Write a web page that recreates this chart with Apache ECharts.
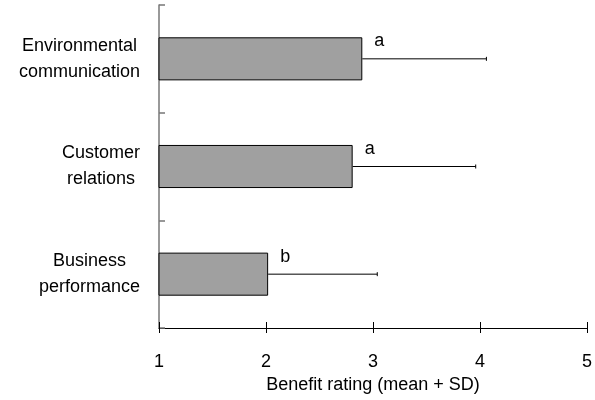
<!DOCTYPE html>
<html>
<head>
<meta charset="utf-8">
<script src="https://cdn.jsdelivr.net/npm/echarts@6/dist/echarts.min.js"></script>
<style>
html,body{margin:0;padding:0;background:#fff;}
#chart{width:595px;height:400px;}
</style>
</head>
<body>
<div id="chart"></div>
<script>
const categories = ['Environmental communication', 'Customer relations', 'Business performance'];
const means = [2.90, 2.81, 2.02];
const sds = [1.16, 1.15, 1.02];
const letters = ['a', 'a', 'b'];
const xTicks = [1, 2, 3, 4, 5];
const xTitle = 'Benefit rating (mean + SD)';

const FONT = 'Liberation Sans, Arial, sans-serif';
const chart = echarts.init(document.getElementById('chart'), null, {renderer: 'canvas'});

const errData = means.map((m, i) => [m, m + sds[i], i]);

const option = {
  animation: false,
  backgroundColor: '#fff',
  grid: {left: 159, right: 7, top: 5, bottom: 72, containLabel: false},
  xAxis: [{
    type: 'value', position: 'bottom',
    min: xTicks[0], max: xTicks[xTicks.length - 1], interval: 1,
    name: xTitle, nameLocation: 'middle', nameGap: 46,
    nameTextStyle: {color: '#000', fontSize: 18, fontFamily: FONT},
    axisLine: {show: true, lineStyle: {color: '#000', width: 1}},
    axisTick: {show: true, inside: false, length: 5, lineStyle: {color: '#000', width: 1}},
    axisLabel: {color: '#000', fontSize: 18, fontFamily: FONT, margin: 25},
    splitLine: {show: false}
  }, {
    type: 'value', position: 'bottom',
    min: xTicks[0], max: xTicks[xTicks.length - 1], interval: 1,
    axisLine: {show: false},
    axisTick: {show: true, inside: true, length: 6, lineStyle: {color: '#000', width: 1}},
    axisLabel: {show: false},
    splitLine: {show: false}
  }],
  yAxis: {
    type: 'category', data: categories, inverse: true,
    axisLine: {show: true, lineStyle: {color: '#777', width: 1.5}},
    axisTick: {show: true, inside: true, length: 6, lineStyle: {color: '#777', width: 1.5}},
    axisLabel: {
      color: '#000', fontSize: 18, fontFamily: FONT, margin: 19, lineHeight: 26,
      formatter: v => v.split(' ').map(w => '{c|' + w + '}').join('\n'),
      rich: {c: {align: 'center', fontSize: 18, fontFamily: FONT, lineHeight: 26, color: '#000'}}
    }
  },
  series: [{
    type: 'bar', data: means, barWidth: '40%', clip: true,
    itemStyle: {color: '#a0a0a0', borderColor: '#000', borderWidth: 1},
    label: {
      show: true, position: ['100%', 0], offset: [12, 4],
      align: 'left', verticalAlign: 'middle',
      formatter: p => letters[p.dataIndex],
      color: '#000', fontSize: 18, fontFamily: FONT
    }
  }, {
    type: 'custom', data: errData, encode: {x: [0, 1], y: 2},
    renderItem: (params, api) => {
      const p1 = api.coord([api.value(0), api.value(2)]);
      const p2 = api.coord([api.value(1), api.value(2)]);
      const st = {stroke: '#000', lineWidth: 1};
      return {type: 'group', children: [
        {type: 'line', shape: {x1: p1[0], y1: p1[1], x2: p2[0], y2: p2[1]}, style: st},
        {type: 'line', shape: {x1: p2[0], y1: p2[1] - 2, x2: p2[0], y2: p2[1] + 2}, style: st}
      ]};
    },
    z: 1
  }]
};
chart.setOption(option);
</script>
</body>
</html>
